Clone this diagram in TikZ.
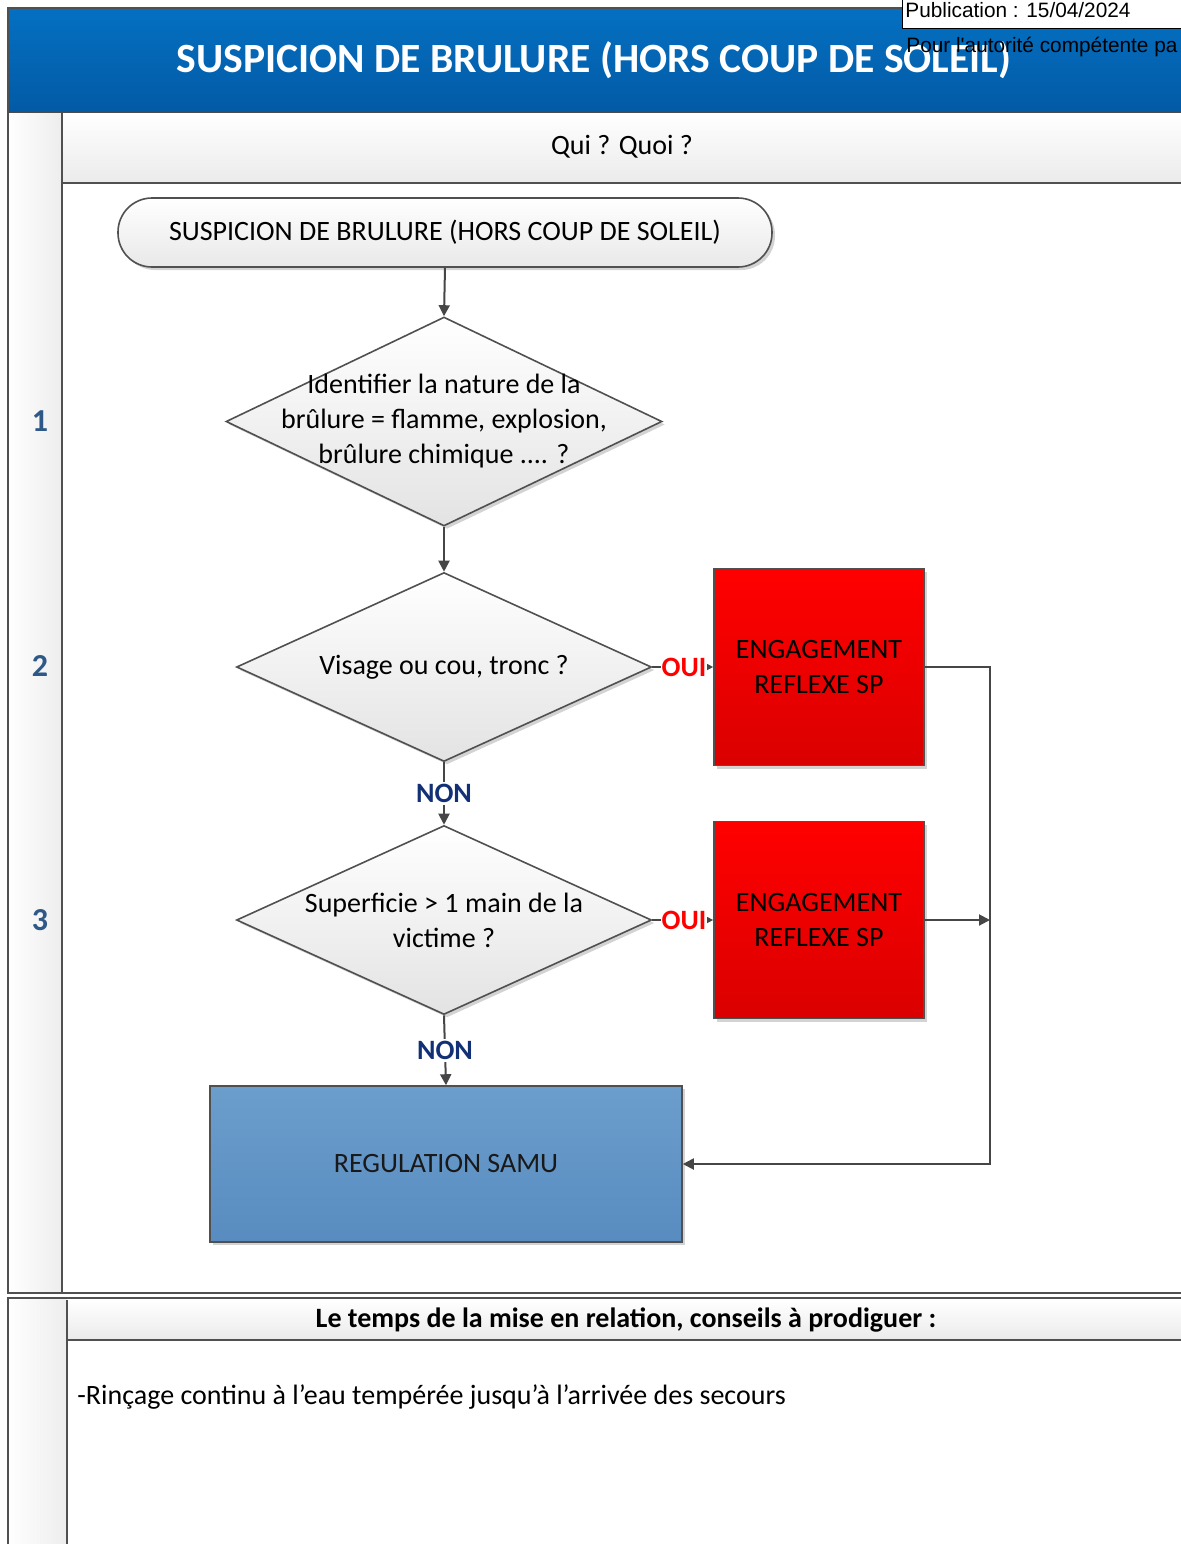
\documentclass[tikz,border=0pt]{standalone}
\usepackage{fontspec}
\setmainfont{Carlito}
\newfontfamily\arialf{Liberation Sans}
\usetikzlibrary{shapes.geometric,arrows.meta,shadows}
\definecolor{hdrtop}{RGB}{4,112,194}
\definecolor{hdrbot}{RGB}{3,90,165}
\definecolor{frame}{RGB}{80,80,80}
\definecolor{conn}{RGB}{70,70,70}
\definecolor{navy}{RGB}{18,48,118}
\definecolor{numcol}{RGB}{45,88,135}
\definecolor{redtop}{RGB}{255,0,0}
\definecolor{redbot}{RGB}{218,0,0}
\definecolor{bluetop}{RGB}{108,158,204}
\definecolor{bluebot}{RGB}{88,140,192}
\tikzset{
  body/.style={font=\fontsize{14}{17.5}\selectfont},
  shd/.style={drop shadow={shadow xshift=1.5pt,shadow yshift=-1.5pt,opacity=0.35,fill=gray}},
  startbox/.style={body,shape=rectangle,rounded corners=17pt,draw=frame,line width=0.8pt,
    top color=white,bottom color=black!9,minimum width=327pt,minimum height=34.5pt,shd},
  decision/.style={shape=diamond,draw=frame,line width=0.8pt,inner sep=0pt,
    top color=white,bottom color=black!11,shd},
  dtext/.style={body,align=center,inner sep=0pt},
  redbox/.style={body,shape=rectangle,draw=frame,line width=0.8pt,top color=redtop,bottom color=redbot,
    minimum width=105pt,minimum height=98.5pt,align=center,text=black,shd},
  bluebox/.style={body,shape=rectangle,draw=frame,line width=0.8pt,top color=bluetop,bottom color=bluebot,
    minimum width=236pt,minimum height=78pt,text=black!90,shd},
  arr/.style={draw=conn,line width=1pt,-{Triangle[length=5.5pt,width=5.5pt]}},
  ouilbl/.style={font=\fontsize{14}{16}\selectfont\bfseries,text=red,fill=white,inner sep=0.5pt},
  nonlbl/.style={font=\fontsize{14}{16}\selectfont\bfseries,text=navy,fill=white,inner sep=1pt},
  numlbl/.style={font=\fontsize{16}{18}\selectfont\bfseries,text=numcol},
}
\begin{document}
\begin{tikzpicture}[x=0.5pt,y=-0.5pt]
\useasboundingbox (0,0) rectangle (1181,1544);
\clip (0,0) rectangle (1181,1544);
% header band
\shade[top color=hdrtop,bottom color=hdrbot] (8,8) rectangle (1190,113);
\draw[frame,line width=1pt] (8,113) -- (8,8) -- (1190,8);
\draw[black!70,line width=1pt] (8,113) -- (1190,113);
\node[font=\fontsize{20.8}{24}\selectfont\bfseries,text=white] (title) at (594,60) {SUSPICION DE BRULURE (HORS COUP DE SOLEIL)};
\node[draw=black,fill=white,line width=0.6pt,anchor=north west,minimum width=150pt,minimum height=14.5pt,inner sep=0pt] (pubbox) at (902,-1) {};
\node[font=\arialf\fontsize{10.4}{12}\selectfont,anchor=west,inner sep=0pt] (pub) at (905,10) {Publication : 15/04/2024};
\node[font=\arialf\fontsize{10.4}{12}\selectfont,anchor=west,inner sep=0pt] (pour) at (906,47) {Pour l'autorité compétente pa};
% top section frame
\shade[left color=white,right color=black!7] (8,113) rectangle (62,1293);
\shade[top color=white,bottom color=black!8] (62,113) rectangle (1190,183);
\draw[frame,line width=1pt] (8,113) -- (8,1293) -- (1190,1293);
\draw[frame,line width=1pt] (62,113) -- (62,1293);
\draw[frame,line width=1pt] (62,183) -- (1190,183);
\node[body] (quiquoi) at (622,147) {Qui ? Quoi ?};
\node[numlbl] (n1) at (40,421) {1};
\node[numlbl] (n2) at (40,666) {2};
\node[numlbl] (n3) at (40,920) {3};
% bottom section frame
\shade[left color=white,right color=black!7] (8,1298) rectangle (67,1544);
\shade[top color=white,bottom color=black!8] (67,1300) rectangle (1190,1340);
\draw[frame,line width=1pt] (8,1550) -- (8,1298) -- (1190,1298);
\draw[frame,line width=1pt] (67,1300) -- (67,1550);
\draw[frame,line width=1pt] (67,1340) -- (1190,1340);
\node[font=\fontsize{14}{16}\selectfont\bfseries] (conseil) at (626,1320) {Le temps de la mise en relation, conseils à prodiguer :};
\node[body,anchor=west,inner sep=0pt] (rincage) at (77,1397) {-Rinçage continu à l’eau tempérée jusqu’à l’arrivée des secours};
% flowchart nodes
\node[startbox] (start) at (445,232.5) {SUSPICION DE BRULURE (HORS COUP DE SOLEIL)};
\node[decision,minimum width=218pt,minimum height=104.5pt] (d1) at (444,421.5) {};
\node[dtext] (d1t) at (d1.center) {Identifier la nature de la\\brûlure = flamme, explosion,\\brûlure chimique .... ?};
\node[decision,minimum width=207.5pt,minimum height=94.5pt] (d2) at (444,667) {};
\node[dtext] (d2t) at (d2.center) {Visage ou cou, tronc ?};
\node[decision,minimum width=207.5pt,minimum height=94.5pt] (d3) at (444,920) {};
\node[dtext] (d3t) at (d3.center) {Superficie > 1 main de la\\victime ?};
\node[redbox] (r1) at (819,667) {ENGAGEMENT\\REFLEXE SP};
\node[redbox] (r2) at (819,920) {ENGAGEMENT\\REFLEXE SP};
\node[bluebox] (samu) at (446,1164) {REGULATION SAMU};
\coordinate (j1) at (990,667);
\coordinate (j2) at (990,920);
% connectors
\draw[arr] (start.south) -- (d1.north);
\draw[arr] (d1.south) -- (d2.north);
\draw[arr] (d2.east) -- node[ouilbl,pos=0.52]{OUI} (r1.west);
\draw[arr] (d3.east) -- node[ouilbl,pos=0.52]{OUI} (r2.west);
\draw[arr] (d2.south) -- node[nonlbl]{NON} (d3.north);
\draw[arr] (d3.south) -- node[nonlbl]{NON} (samu.north);
\draw[arr] (r1.east) -- (j1) |- (samu.east);
\draw[arr] (r2.east) -- (j2);
\end{tikzpicture}
\end{document}
